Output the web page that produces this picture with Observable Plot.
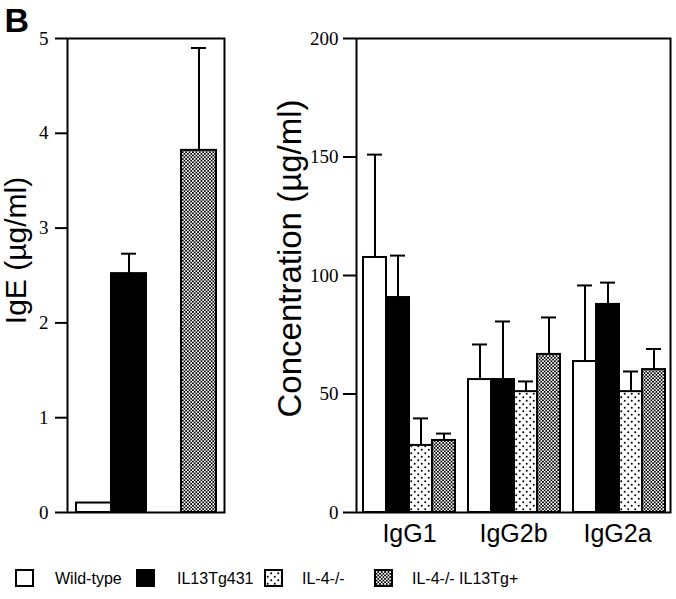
<!DOCTYPE html>
<html>
<head>
<meta charset="utf-8">
<script src="https://cdn.jsdelivr.net/npm/d3@7"></script>
<script src="https://cdn.jsdelivr.net/npm/@observablehq/plot@0.6"></script>
<style>
  body { margin: 0; background: #fff; }
  #root { position: relative; width: 676px; height: 599px; overflow: hidden; background: #fff; }
  .layer { position: absolute; top: 0; }
</style>
</head>
<body>
<svg width="0" height="0" style="position:absolute">
  <defs>
    <pattern id="dots" width="7" height="7" patternUnits="userSpaceOnUse">
      <rect width="7" height="7" fill="#fff"/>
      <circle cx="1.75" cy="1.75" r="1" fill="#000"/>
      <circle cx="5.25" cy="5.25" r="1" fill="#000"/>
    </pattern>
    <pattern id="checker" width="3.4" height="3.4" patternUnits="userSpaceOnUse">
      <rect width="3.4" height="3.4" fill="#fff"/>
      <rect x="0" y="0" width="1.7" height="1.7" fill="#000"/>
      <rect x="1.7" y="1.7" width="1.7" height="1.7" fill="#000"/>
    </pattern>
  </defs>
</svg>
<div id="root"></div>
<script>
// ---------- data ----------
const series = ["Wild-type", "IL13Tg431", "IL-4-/-", "IL-4-/- IL13Tg+"];
const fills = ["#ffffff", "#000000", "url(#dots)", "url(#checker)"];

const igeMean = [0.1, 2.52, null, 3.82];
const igeErr  = [0, 0.21, null, 1.08];
const igeTicks = [0, 1, 2, 3, 4, 5];

const groups = ["IgG1", "IgG2b", "IgG2a"];
const igg1Mean  = [107.6, 90.7, 28.3, 30.4];
const igg1Err   = [43.4, 17.7, 11.4, 2.9];
const igg2bMean = [56.1, 56.1, 51.0, 66.7];
const igg2bErr  = [14.8, 24.5, 4.3, 15.6];
const igg2aMean = [63.7, 87.8, 51.0, 60.3];
const igg2aErr  = [32.1, 9.2, 8.5, 8.7];
const concTicks = [0, 50, 100, 150, 200];

const panelLabel = "B";
const igeLabel = "IgE (µg/ml)";
const concLabel = "Concentration (µg/ml)";

// ---------- tables ----------
const sans = "Liberation Sans, Arial, Helvetica, sans-serif";
const serif = "Liberation Serif, Times New Roman, serif";

const ige = series.map((s, i) => ({series: s, mean: igeMean[i], err: igeErr[i]}))
  .filter(d => d.mean != null);
const igeErrRows = ige.filter(d => d.err > 0);

const iggMeans = [igg1Mean, igg2bMean, igg2aMean];
const iggErrs = [igg1Err, igg2bErr, igg2aErr];
const igg = groups.flatMap((g, gi) => series.map((s, i) => ({
  group: g, series: s, mean: iggMeans[gi][i], err: iggErrs[gi][i]
})));

const root = document.getElementById("root");
function place(node, left, top) {
  node.classList.add("layer");
  node.style.left = left + "px";
  node.style.top = top + "px";
  root.appendChild(node);
}

// ---------- left panel (IgE) ----------
const left = Plot.plot({
  width: 232, height: 524,
  marginLeft: 67, marginRight: 8, marginTop: 38, marginBottom: 12,
  style: {fontFamily: sans, background: "transparent", overflow: "visible"},
  x: {domain: series, paddingInner: 0, paddingOuter: 0.24, axis: null},
  y: {domain: [0, 5], axis: null},
  color: {domain: series, range: fills},
  marks: [
    Plot.barY(ige, {x: "series", y: "mean", fill: "series", stroke: "#000", strokeWidth: 2}),
    Plot.ruleX(igeErrRows, {x: "series", y1: "mean", y2: d => d.mean + d.err, stroke: "#000", strokeWidth: 2}),
    Plot.tickY(igeErrRows, {x: "series", y: d => d.mean + d.err, stroke: "#000", strokeWidth: 2, inset: 10}),
    Plot.frame({stroke: "#000", strokeWidth: 2}),
    Plot.axisY({ticks: igeTicks, tickSize: 12, tickPadding: 7, strokeWidth: 2,
      fontSize: 19, fontFamily: serif, label: null, tickFormat: d3.format("d")}),
    Plot.text([igeLabel], {text: d => d, frameAnchor: "left", rotate: -90, dx: -42, dy: -25,
      lineAnchor: "bottom", textAnchor: "middle", fontSize: 30, fontFamily: sans, fill: "#000"}),
    Plot.text([panelLabel], {text: d => d, frameAnchor: "top-left", dx: -63, dy: -7,
      lineAnchor: "bottom", textAnchor: "start", fontSize: 34, fontWeight: "bold", fontFamily: sans, fill: "#000"})
  ]
});
place(left, 0, 0);

// ---------- right panel: axes & frame ----------
const RW = 436, RH = 560, RL = 116, RR = 6, RT = 38, RB = 48;
const rightAxes = Plot.plot({
  width: RW, height: RH,
  marginLeft: RL, marginRight: RR, marginTop: RT, marginBottom: RB,
  style: {fontFamily: sans, background: "transparent", overflow: "visible"},
  x: {domain: groups, paddingInner: 0.1, paddingOuter: 0.04},
  y: {domain: [0, 200]},
  marks: [
    Plot.frame({stroke: "#000", strokeWidth: 2}),
    Plot.axisY({ticks: concTicks, tickSize: 13, tickPadding: 5, strokeWidth: 2,
      fontSize: 19, fontFamily: serif, label: null, tickFormat: d3.format("d")}),
    Plot.axisX({tickSize: 0, tickPadding: 12, fontSize: 25, fontFamily: sans, label: null}),
    Plot.text([concLabel], {text: d => d, frameAnchor: "left", rotate: -90, dx: -56, dy: -17,
      lineAnchor: "bottom", textAnchor: "middle", fontSize: 33, fontFamily: sans, fill: "#000"})
  ]
});

// ---------- right panel: bars ----------
const rightBars = Plot.plot({
  width: RW, height: RH,
  marginLeft: RL, marginRight: RR, marginTop: RT, marginBottom: RB,
  style: {fontFamily: sans, background: "transparent", overflow: "visible"},
  fx: {domain: groups, paddingInner: 0.1, paddingOuter: 0.04, axis: null, label: null},
  x: {domain: series, padding: 0, axis: null},
  y: {domain: [0, 200], axis: null},
  color: {domain: series, range: fills},
  marks: [
    Plot.barY(igg, {fx: "group", x: "series", y: "mean", fill: "series", stroke: "#000", strokeWidth: 2}),
    Plot.ruleX(igg, {fx: "group", x: "series", y1: "mean", y2: d => d.mean + d.err, stroke: "#000", strokeWidth: 2}),
    Plot.tickY(igg, {fx: "group", x: "series", y: d => d.mean + d.err, stroke: "#000", strokeWidth: 2, inset: 4})
  ]
});
place(rightBars, 240, 0);
place(rightAxes, 240, 0);

// ---------- legend ----------
const legendSwatchX = [16, 137, 265, 375];
const legendTextX = [55, 177, 302, 412];
const legend = d3.create("svg").attr("width", 676).attr("height", 40)
  .style("font-family", sans);
const items = legend.selectAll("g").data(series).join("g");
items.append("rect")
  .attr("x", (d, i) => legendSwatchX[i]).attr("y", 9)
  .attr("width", 17).attr("height", 16)
  .attr("fill", (d, i) => fills[i]).attr("stroke", "#000").attr("stroke-width", 2);
items.append("text")
  .attr("x", (d, i) => legendTextX[i]).attr("y", 23)
  .attr("font-size", 16).attr("fill", "#000")
  .text(d => d);
place(legend.node(), 0, 561);
</script>
</body>
</html>
